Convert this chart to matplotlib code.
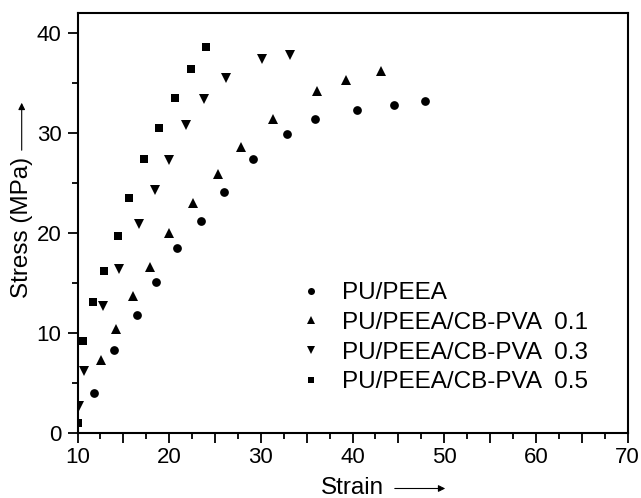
import matplotlib.pyplot as plt
import numpy as np
from matplotlib.ticker import MultipleLocator, FuncFormatter

plt.rcParams['font.family'] = ['Liberation Sans', 'DejaVu Sans']

# %%
# Stress-strain data
strain_pu = [11.8, 14.0, 16.45, 18.6, 20.9, 23.5, 26.0, 29.2, 32.8, 35.9, 40.45, 44.5, 47.9]
stress_pu = [4.0, 8.3, 11.8, 15.1, 18.5, 21.2, 24.1, 27.4, 29.9, 31.4, 32.3, 32.8, 33.2]

strain_01 = [12.55, 14.2, 16.0, 17.9, 20.0, 22.55, 25.35, 27.8, 31.3, 36.15, 39.25, 43.15]
stress_01 = [7.3, 10.4, 13.7, 16.6, 20.0, 23.0, 25.9, 28.6, 31.4, 34.2, 35.3, 36.2]

strain_03 = [10.2, 10.7, 12.75, 14.55, 16.75, 18.45, 20.0, 21.85, 23.8, 26.2, 30.15, 33.15]
stress_03 = [2.7, 6.2, 12.7, 16.4, 20.9, 24.3, 27.3, 30.8, 33.4, 35.5, 37.4, 37.8]

strain_05 = [10.0, 10.65, 11.7, 12.9, 14.4, 15.65, 17.3, 18.9, 20.6, 22.35, 24.0]
stress_05 = [1.0, 9.2, 13.1, 16.2, 19.7, 23.5, 27.4, 30.5, 33.5, 36.4, 38.6]

labels = ['PU/PEEA', 'PU/PEEA/CB-PVA  0.1', 'PU/PEEA/CB-PVA  0.3', 'PU/PEEA/CB-PVA  0.5']

# %%
fig = plt.figure(figsize=(6.41, 4.98), dpi=100)
ax = fig.add_axes([77.5 / 641, 64.7 / 498, 550 / 641, 420 / 498])

series = [(strain_pu, stress_pu, 'o', 6.3),
          (strain_01, stress_01, '^', 7.6),
          (strain_03, stress_03, 'v', 7.6),
          (strain_05, stress_05, 's', 6.0)]
for (x, y, m, ms), lab in zip(series, labels):
    ax.plot(x, y, linestyle='none', marker=m, markersize=ms, color='black',
            markeredgewidth=0, label=lab)

ax.set_xlim(10, 70)
ax.set_ylim(0, 42)
ax.xaxis.set_major_locator(MultipleLocator(5))
ax.xaxis.set_minor_locator(MultipleLocator(2.5))
ax.xaxis.set_major_formatter(FuncFormatter(lambda v, p: f'{v:.0f}' if v % 10 == 0 else ''))
ax.yaxis.set_major_locator(MultipleLocator(10))
ax.yaxis.set_minor_locator(MultipleLocator(5))
ax.tick_params(which='major', length=7, width=1.3, labelsize=16, direction='out')
ax.tick_params(which='minor', length=4, width=1.3, direction='out')
ax.tick_params(axis='x', pad=3)
ax.tick_params(axis='y', pad=4.5)
for s in ax.spines.values():
    s.set_linewidth(1.5)

leg = ax.legend(loc='upper left', bbox_to_anchor=(0.381, 0.389), frameon=False,
                fontsize=17.5, handlelength=1.0, handletextpad=0.75,
                labelspacing=0.32, borderpad=0, markerscale=0.8)

# axis labels with arrows, Origin style
fig.text(352.5 / 641, 4 / 498, 'Strain', fontsize=17.5, ha='center', va='baseline')
ax.annotate('', xy=(448 / 641, 9.5 / 498), xytext=(392 / 641, 9.5 / 498),
            xycoords='figure fraction',
            arrowprops=dict(arrowstyle='-|>', color='black', lw=0.8,
                            mutation_scale=10))
fig.text(21.7 / 641, 1 - 227.5 / 498, 'Stress (MPa)', fontsize=17.5,
         rotation=90, ha='center', va='center')
ax.annotate('', xy=(21.7 / 641, 1 - 100 / 498), xytext=(21.7 / 641, 1 - 153 / 498),
            xycoords='figure fraction',
            arrowprops=dict(arrowstyle='-|>', color='black', lw=0.8,
                            mutation_scale=10))

plt.savefig('out.png', dpi=100)
